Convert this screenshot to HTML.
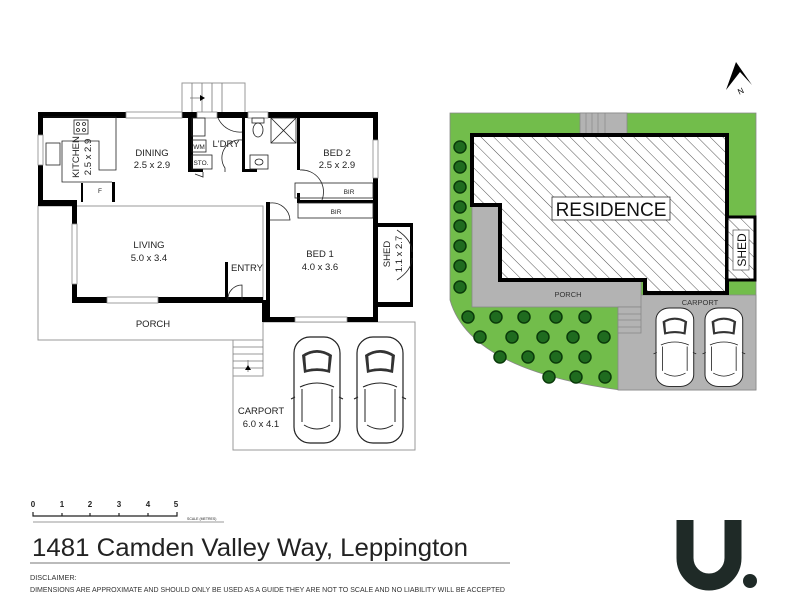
<!DOCTYPE html>
<html><head><meta charset="utf-8"><style>
html,body{margin:0;padding:0;background:#fff;width:800px;height:615px;overflow:hidden}
svg{display:block;font-family:"Liberation Sans",sans-serif}
</style></head><body>
<svg width="800" height="615" viewBox="0 0 800 615" xmlns="http://www.w3.org/2000/svg">
<defs>
<pattern id="hatch" width="9" height="9" patternUnits="userSpaceOnUse" patternTransform="rotate(-45)">
<rect width="9" height="9" fill="#fff"/><line x1="0" y1="0" x2="0" y2="9" stroke="#555" stroke-width="1"/>
</pattern>
<g id="car">
<rect x="0" y="0" width="46" height="106" rx="16" fill="#fff" stroke="#222" stroke-width="1.2"/>
<path d="M8 18 Q23 8 38 18 L36 36 Q23 32 10 36 Z" fill="#333"/>
<path d="M11 19 Q23 12 35 19 L34 33 Q23 30 12 33 Z" fill="#fff" stroke="#333" stroke-width=".6"/>
<path d="M6 50 Q23 42 40 50 M8 52 L8 85 M38 52 L38 85 M10 88 Q23 96 36 88" fill="none" stroke="#222" stroke-width="1"/>
<path d="M-3 62 L1 60 M49 62 L45 60" stroke="#222"/>
</g>
</defs>

<!-- ===== floor plan ===== -->
<g fill="none" stroke="#999" stroke-width="1">
<rect x="38" y="206" width="225" height="134"/>
<polygon points="263,322 415,322 415,450 233,450 233,340 263,340"/>
<rect x="233" y="340" width="30" height="36"/>
<rect x="182" y="83" width="63" height="30"/>
</g>
<g stroke="#777" stroke-width=".8">
<line x1="233" y1="347" x2="263" y2="347"/><line x1="233" y1="354" x2="263" y2="354"/><line x1="233" y1="361" x2="263" y2="361"/><line x1="233" y1="368" x2="263" y2="368"/>
<line x1="248" y1="372" x2="248" y2="360"/>
<line x1="192" y1="83" x2="192" y2="113"/><line x1="202" y1="83" x2="202" y2="113"/><line x1="212" y1="83" x2="212" y2="113"/><line x1="222" y1="83" x2="222" y2="113"/>
<line x1="190" y1="98" x2="200" y2="98"/>
</g>
<path d="M245 370 L248 365 L251 370Z M200 95 L205 98 L200 101Z" fill="#000"/>

<!-- walls -->
<g fill="#000">
<rect x="38" y="112" width="340" height="6"/>
<rect x="38" y="112" width="5" height="94"/>
<rect x="38" y="200" width="39" height="6"/>
<rect x="72" y="200" width="5" height="103"/>
<rect x="72" y="297" width="191" height="6"/>
<rect x="225" y="262" width="3" height="38"/>
<rect x="262" y="300" width="8" height="22"/>
<rect x="266" y="202" width="4" height="120"/>
<rect x="266" y="317" width="112" height="5"/>
<rect x="373" y="112" width="5" height="210"/>
<rect x="376" y="223" width="37" height="4"/>
<rect x="410" y="223" width="3" height="84"/>
<rect x="376" y="302" width="37" height="5"/>
<rect x="188" y="112" width="5" height="60"/>
<rect x="242" y="112" width="3" height="60"/>
<rect x="188" y="169" width="15" height="3"/>
<rect x="245" y="169" width="12" height="3"/>
<rect x="297" y="112" width="3" height="58"/>
<rect x="297" y="193" width="3" height="10"/>
<rect x="297" y="200" width="81" height="3"/>
<rect x="112" y="182" width="3" height="20"/>
<rect x="81" y="183" width="2" height="19"/>
</g>
<!-- windows -->
<g fill="#fff" stroke="#888" stroke-width=".8">
<rect x="126" y="112" width="56" height="6"/><rect x="197" y="112" width="20" height="6"/><rect x="248" y="112" width="20" height="6"/>
<rect x="38" y="135" width="5" height="30"/><rect x="72" y="224" width="5" height="60"/>
<rect x="107" y="297" width="51" height="6"/><rect x="295" y="317" width="52" height="5"/>
<rect x="373" y="140" width="5" height="38"/>
</g>
<!-- interior lines -->
<g fill="none" stroke="#222" stroke-width=".8">
<polyline points="43,117 116,117 116,170 99,170 99,141 62,141 62,182 112,182"/>
<rect x="74" y="120" width="14" height="14"/>
<rect x="46" y="143" width="14" height="22"/>
<rect x="295" y="183" width="78" height="15"/>
<rect x="298" y="203" width="75" height="15"/>
<rect x="192" y="140" width="14" height="12"/>
<rect x="192" y="155" width="20" height="14"/>
<rect x="192" y="118" width="13" height="18"/>
<rect x="271" y="118" width="25" height="25"/>
<line x1="271" y1="118" x2="296" y2="143"/><line x1="296" y1="118" x2="271" y2="143"/>
<ellipse cx="258" cy="130" rx="5" ry="7"/><rect x="252" y="118" width="12" height="5"/>
<rect x="250" y="155" width="18" height="14"/><ellipse cx="259" cy="162" rx="4" ry="3"/>
<path d="M218 118 A24 24 0 0 0 242 132 M242 140 A18 18 0 0 0 225 168 L225 172 M300 170 A22 22 0 0 1 322 200 M270 203 A18 18 0 0 1 290 220 L270 220 M228 300 A14 14 0 0 1 242 285 L242 300 M203 172 L203 177 L195 174 M397 230 Q412 240 412 252 M397 280 Q412 270 412 258"/>
<circle cx="78" cy="124" r="1.5"/><circle cx="84" cy="124" r="1.5"/><circle cx="78" cy="130" r="1.5"/><circle cx="84" cy="130" r="1.5"/>
</g>
<g font-size="9.5" fill="#222" text-anchor="middle">
<text x="152" y="156">DINING</text><text x="152" y="168">2.5 x 2.9</text>
<text x="226" y="147">L'DRY</text>
<text x="337" y="156">BED 2</text><text x="337" y="168">2.5 x 2.9</text>
<text x="149" y="248">LIVING</text><text x="149" y="261">5.0 x 3.4</text>
<text x="320" y="257">BED 1</text><text x="320" y="270">4.0 x 3.6</text>
<text x="247" y="271">ENTRY</text>
<text x="153" y="327">PORCH</text>
<text x="261" y="414">CARPORT</text><text x="261" y="427">6.0 x 4.1</text>
<text transform="translate(79,157) rotate(-90)">KITCHEN</text>
<text transform="translate(91,157) rotate(-90)">2.5 x 2.9</text>
<text transform="translate(390,254) rotate(-90)">SHED</text>
<text transform="translate(402,254) rotate(-90)">1.1 x 2.7</text>
</g>
<g font-size="6.5" fill="#222" text-anchor="middle">
<text x="199" y="149">WM</text><text x="201" y="165">STO.</text>
<text x="349" y="194">BIR</text><text x="336" y="214">BIR</text><text x="100" y="193">F</text>
</g>
<use href="#car" x="294" y="337"/>
<use href="#car" x="357" y="337"/>

<!-- ===== site plan ===== -->
<path d="M450 113 H756 V390 H620 Q470 370 450 300 Z" fill="#72bd4b" stroke="#888" stroke-width=".8"/>
<rect x="618" y="295" width="138" height="95" fill="#b3b3b3" stroke="#888" stroke-width=".8"/>
<rect x="472" y="203" width="169" height="104" fill="#b3b3b3" stroke="#888" stroke-width=".8"/>
<rect x="618" y="307" width="23" height="26" fill="#b3b3b3" stroke="#888" stroke-width=".8"/>
<g stroke="#888" stroke-width=".7"><line x1="618" y1="314" x2="641" y2="314"/><line x1="618" y1="320" x2="641" y2="320"/><line x1="618" y1="327" x2="641" y2="327"/></g>
<rect x="580" y="113" width="47" height="22" fill="#b3b3b3" stroke="#888" stroke-width=".8"/>
<g stroke="#888" stroke-width=".7"><line x1="586" y1="113" x2="586" y2="135"/><line x1="592" y1="113" x2="592" y2="135"/><line x1="598" y1="113" x2="598" y2="135"/><line x1="605" y1="113" x2="605" y2="135"/></g>
<polygon points="472,135 727,135 727,293 645,293 645,280 500,280 500,205 472,205" fill="url(#hatch)" stroke="#000" stroke-width="4"/>
<rect x="727" y="217" width="28" height="63" fill="url(#hatch)" stroke="#000" stroke-width="3"/>
<rect x="552" y="197" width="118" height="23" fill="#fff" stroke="#333" stroke-width=".8"/>
<text x="611" y="216" font-size="19" text-anchor="middle" fill="#111">RESIDENCE</text>
<rect x="733" y="230" width="16" height="40" fill="#fff" stroke="#333" stroke-width=".6"/>
<text transform="translate(746,250) rotate(-90)" font-size="12" text-anchor="middle" fill="#111">SHED</text>
<text x="568" y="297" font-size="7.5" text-anchor="middle" fill="#333">PORCH</text>
<text x="700" y="305" font-size="7.5" text-anchor="middle" fill="#333">CARPORT</text>
<g fill="#1f6b1f" stroke="#0a3a0a" stroke-width="1.5">
<circle cx="460" cy="147" r="6"/><circle cx="460" cy="167" r="6"/><circle cx="460" cy="187" r="6"/><circle cx="460" cy="207" r="6"/><circle cx="460" cy="226" r="6"/><circle cx="460" cy="246" r="6"/><circle cx="460" cy="266" r="6"/><circle cx="460" cy="287" r="6"/>
<circle cx="468" cy="317" r="6"/><circle cx="496" cy="317" r="6"/><circle cx="524" cy="317" r="6"/><circle cx="556" cy="317" r="6"/><circle cx="585" cy="317" r="6"/>
<circle cx="480" cy="337" r="6"/><circle cx="512" cy="337" r="6"/><circle cx="543" cy="337" r="6"/><circle cx="573" cy="337" r="6"/><circle cx="604" cy="337" r="6"/>
<circle cx="500" cy="357" r="6"/><circle cx="528" cy="357" r="6"/><circle cx="556" cy="357" r="6"/><circle cx="585" cy="357" r="6"/>
<circle cx="549" cy="377" r="6"/><circle cx="576" cy="377" r="6"/><circle cx="605" cy="377" r="6"/>
</g>
<use href="#car" transform="translate(656,308) scale(0.82,0.74)"/>
<use href="#car" transform="translate(705,308) scale(0.82,0.74)"/>

<!-- north arrow -->
<path d="M736 62 L752 85 L740 72 L726 90 Z" fill="#000"/>
<text x="738" y="95" font-size="8" transform="rotate(-25 738 92)">N</text>

<!-- footer -->
<g font-size="8" font-weight="bold" fill="#222" text-anchor="middle">
<text x="33" y="507">0</text><text x="62" y="507">1</text><text x="90" y="507">2</text><text x="119" y="507">3</text><text x="148" y="507">4</text><text x="176" y="507">5</text>
</g>
<path d="M33 512 V516 H177 V512 M62 513 V516 M90 513 V516 M119 513 V516 M148 513 V516" fill="none" stroke="#222" stroke-width="1.2"/>
<line x1="33" y1="522" x2="224" y2="522" stroke="#bbb" stroke-width="1.5"/>
<text x="187" y="520" font-size="3.5" fill="#222">SCALE (METRES)</text>
<text x="32" y="556" font-size="25" fill="#222" textLength="436" lengthAdjust="spacingAndGlyphs">1481 Camden Valley Way, Leppington</text>
<line x1="30" y1="563" x2="510" y2="563" stroke="#777" stroke-width="1"/>
<text x="30" y="580" font-size="7.3" fill="#333">DISCLAIMER:</text>
<text x="30" y="592" font-size="7.3" fill="#333" textLength="475" lengthAdjust="spacingAndGlyphs">DIMENSIONS ARE APPROXIMATE AND SHOULD ONLY BE USED AS A GUIDE THEY ARE NOT TO SCALE AND NO LIABILITY WILL BE ACCEPTED</text>
<path d="M685 520 V558 A24 24 0 0 0 733 558 V520" fill="none" stroke="#1f2a27" stroke-width="17"/>
<circle cx="750" cy="581" r="7" fill="#1f2a27"/>
</svg>
</body></html>
